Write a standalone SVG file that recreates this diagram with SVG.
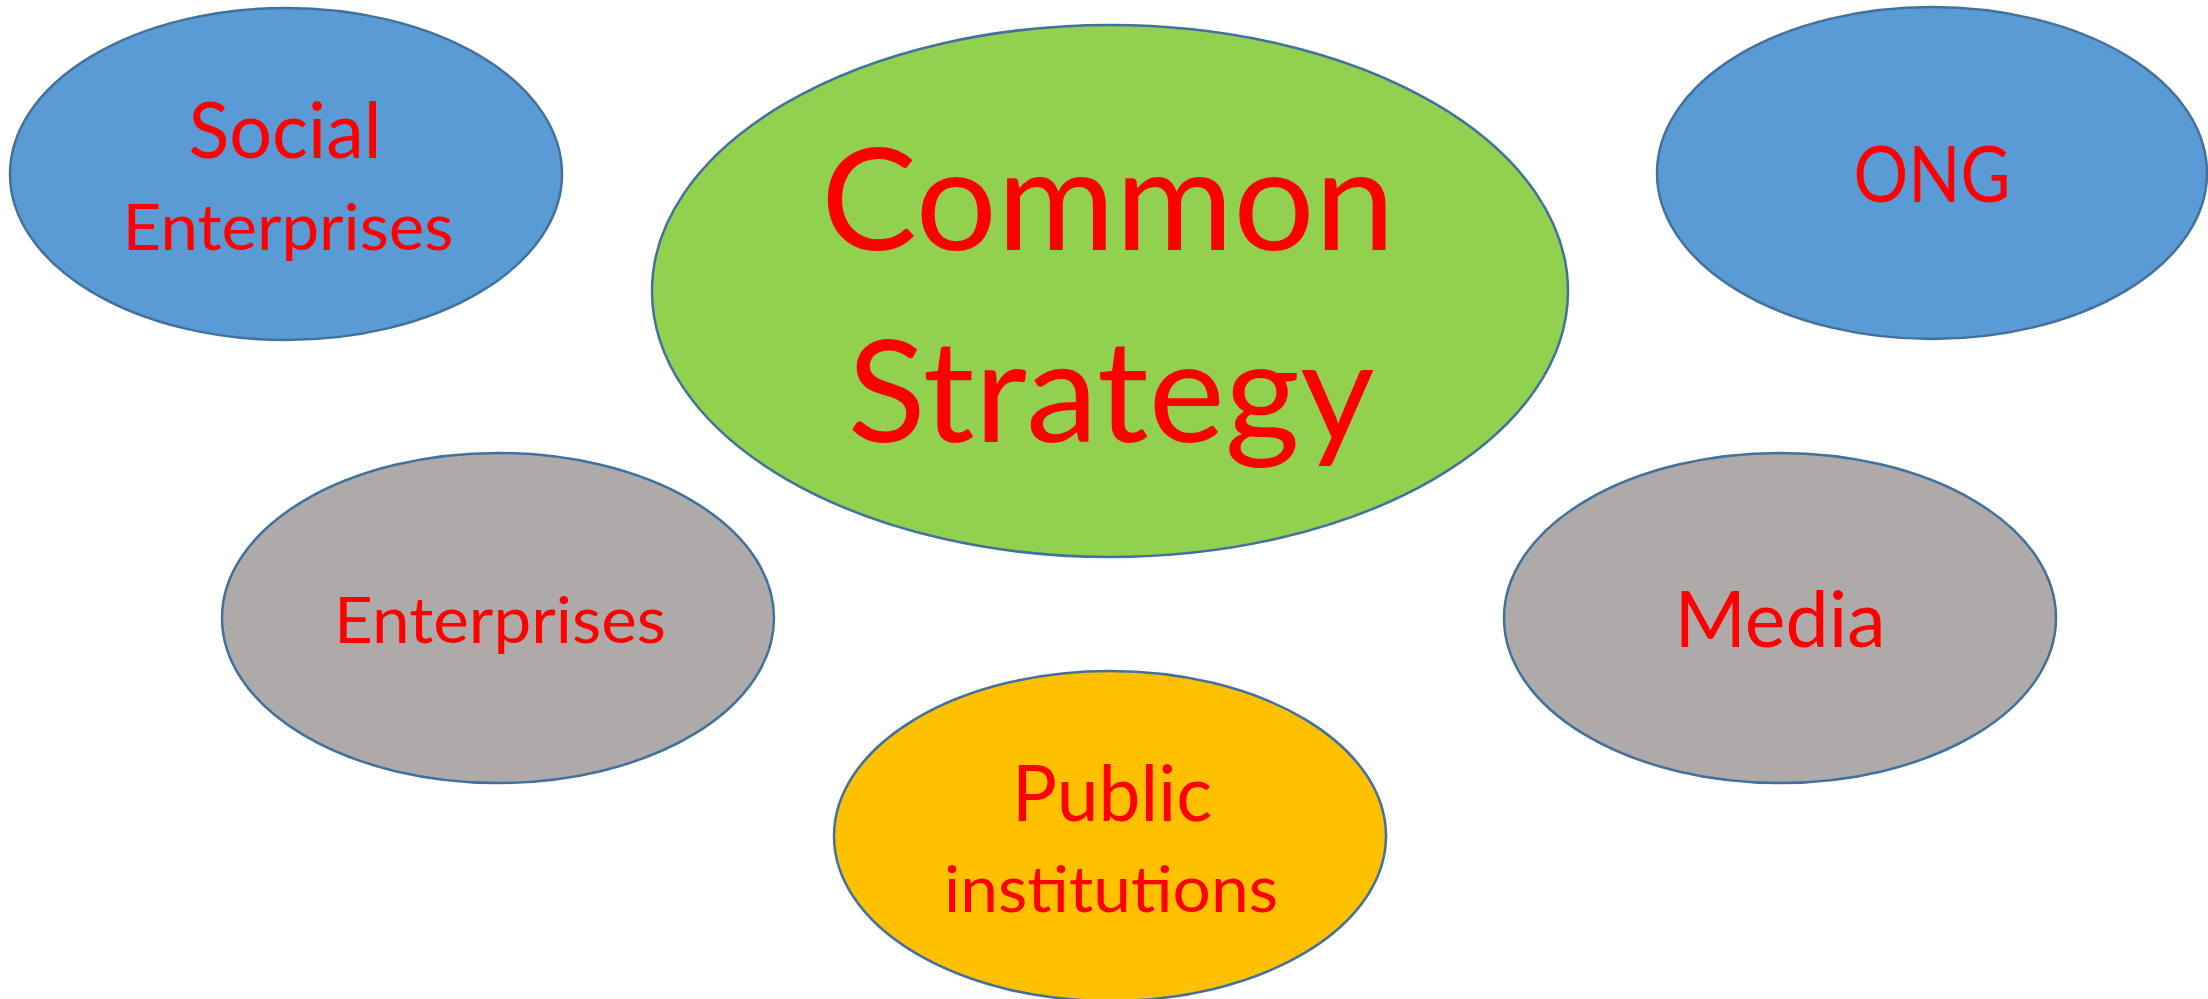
<svg xmlns="http://www.w3.org/2000/svg" width="2208" height="999" viewBox="0 0 2208 999">
<style>
.node{stroke:#41719C;stroke-width:2.5}
.blue{fill:#5B9BD5}
.green{fill:#92D050}
.gray{fill:#AEAAAA}
.gold{fill:#FFC000}
.lbl{font-family:Lato,"Open Sans","Liberation Sans",sans-serif;fill:#FF0000;text-anchor:middle}
.big{font-size:78px}
.small{font-size:64px}
.huge{font-size:141px}
</style>
<rect width="2208" height="999" fill="#FFFFFF"/>
<g id="social-enterprises">
<ellipse class="node blue" cx="286" cy="174" rx="276" ry="166"/>
<text class="lbl big" x="285" y="158" textLength="193" lengthAdjust="spacingAndGlyphs">Social</text>
<text class="lbl small" x="288" y="250" textLength="331" lengthAdjust="spacingAndGlyphs">Enterprises</text>
</g>
<g id="common-strategy">
<ellipse class="node green" cx="1110" cy="291" rx="458" ry="266"/>
<text class="lbl huge" x="1108" y="250" textLength="574" lengthAdjust="spacingAndGlyphs">Common</text>
<text class="lbl huge" x="1111" y="442" textLength="527" lengthAdjust="spacingAndGlyphs">Strategy</text>
</g>
<g id="ong">
<ellipse class="node blue" cx="1932" cy="173" rx="275" ry="166"/>
<text class="lbl big" x="1932" y="202" textLength="157" lengthAdjust="spacingAndGlyphs">ONG</text>
</g>
<g id="enterprises">
<ellipse class="node gray" cx="498" cy="618" rx="276" ry="165"/>
<text class="lbl small" x="500" y="643" textLength="332" lengthAdjust="spacingAndGlyphs">Enterprises</text>
</g>
<g id="media">
<ellipse class="node gray" cx="1780" cy="618" rx="276" ry="165"/>
<text class="lbl big" x="1780" y="647" textLength="211" lengthAdjust="spacingAndGlyphs">Media</text>
</g>
<g id="public-institutions">
<ellipse class="node gold" cx="1110" cy="836" rx="276" ry="165"/>
<text class="lbl big" x="1112" y="821" textLength="200" lengthAdjust="spacingAndGlyphs">Public</text>
<text class="lbl small" x="1111" y="912" textLength="334" lengthAdjust="spacingAndGlyphs">institutions</text>
</g>
</svg>
